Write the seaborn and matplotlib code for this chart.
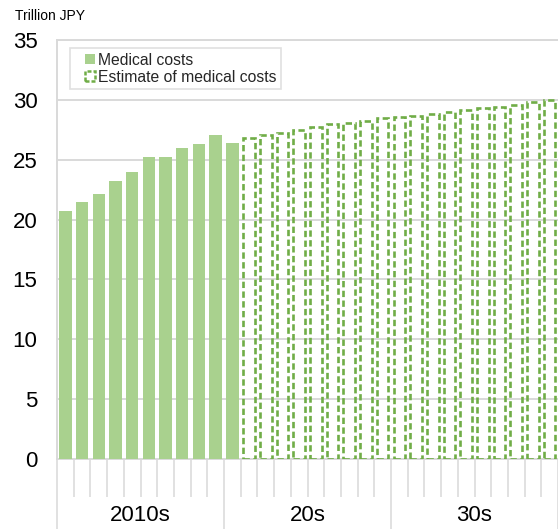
import matplotlib
matplotlib.use("Agg")
import matplotlib.pyplot as plt
from matplotlib.patches import Patch, Rectangle
from matplotlib.legend_handler import HandlerPatch
from matplotlib.transforms import blended_transform_factory
import seaborn as sns
import pandas as pd

# Fiscal years shown on the category axis
years = list(range(2010, 2040))
actual_years = list(range(2010, 2021))
estimate_years = list(range(2021, 2040))

# Medical costs, trillion JPY
actual_costs = [20.7, 21.5, 22.1, 23.2, 24.0, 25.2, 25.2, 26.0, 26.3, 27.1, 26.4]
estimate_costs = [26.8, 27.05, 27.25, 27.5, 27.7, 27.95, 28.05, 28.25, 28.45, 28.6,
                  28.65, 28.8, 28.95, 29.15, 29.3, 29.4, 29.6, 29.85, 30.0]

decade_labels = ["2010s", "20s", "30s"]
y_ticks = [0, 5, 10, 15, 20, 25, 30, 35]

series_names = ["Medical costs", "Estimate of medical costs"]

solid_green = "#a9d18e"
dash_green = "#70ad47"
grid_grey = "#d9d9d9"

sns.set_theme(style="white")
plt.rcParams["font.family"] = ["Liberation Sans", "DejaVu Sans"]

actual_df = pd.DataFrame({"year": [str(y) for y in actual_years], "cost": actual_costs})
estimate_df = pd.DataFrame({"year": [str(y) for y in estimate_years], "cost": estimate_costs})
order = [str(y) for y in years]

fig = plt.figure(figsize=(5.58, 5.29), dpi=100)
ax = fig.add_axes([57 / 558, 70 / 529, 501 / 558, 419 / 529])

sns.barplot(data=actual_df, x="year", y="cost", order=order, color=solid_green,
            saturation=1, width=0.74, errorbar=None, ax=ax, zorder=3, linewidth=0)
sns.barplot(data=estimate_df, x="year", y="cost", order=order, color=dash_green,
            saturation=1, width=0.70, errorbar=None, fill=False, ax=ax, zorder=3,
            linewidth=1.9, linestyle=(0, (2.4, 1.3)))

ax.set_xlim(-0.5, len(years) - 0.5)
ax.set_ylim(0, 35)
ax.set_yticks(y_ticks)
ax.set_yticklabels([str(t) for t in y_ticks], fontsize=16, color="#000000")
ax.yaxis.grid(True, color=grid_grey, linewidth=1.4, zorder=0)
ax.set_axisbelow(True)
ax.tick_params(axis="y", length=0, pad=14)
ax.set_xlabel("")
ax.set_ylabel("")

# Category axis: short ticks between years, long ticks between decades
boundaries = [i - 0.5 for i in range(len(years) + 1)]
decade_edges = [b for i, b in enumerate(boundaries) if i % 10 == 0]
ax.set_xticks(decade_edges)
ax.set_xticks(boundaries, minor=True)
ax.set_xticklabels([])
ax.tick_params(axis="x", which="major", direction="out", length=51, width=1.1,
               color=grid_grey, bottom=True)
ax.tick_params(axis="x", which="minor", direction="out", length=27, width=1.1,
               color=grid_grey, bottom=True)

trans = blended_transform_factory(ax.transData, ax.transAxes)
for k, label in enumerate(decade_labels):
    ax.text(10 * k + 4.5, -0.134, label, transform=trans, ha="center", va="center",
            fontsize=16, color="#000000")

for side in ["left", "top", "bottom"]:
    ax.spines[side].set_visible(True)
    ax.spines[side].set_color(grid_grey)
    ax.spines[side].set_linewidth(1.4)
ax.spines["right"].set_visible(False)


def small_square(legend, orig_handle, xdescent, ydescent, width, height, fontsize):
    # square legend key sitting at the right end of the handle box
    side = 0.62 * fontsize
    return Rectangle((width - side - xdescent, (height - side) / 2 - ydescent), side, side)


handles = [
    Patch(facecolor=solid_green, edgecolor="none"),
    Patch(facecolor="none", edgecolor=dash_green, linewidth=1.8, linestyle=(0, (1.6, 0.8))),
]
leg = ax.legend(handles, series_names, loc="upper left", bbox_to_anchor=(0.026, 0.981),
                borderaxespad=0, frameon=True, fancybox=False, fontsize=11.3,
                handlelength=1.3, handleheight=0.6, handletextpad=0.2,
                labelspacing=0.12, borderpad=0.3,
                handler_map={Patch: HandlerPatch(patch_func=small_square)})
leg.get_frame().set_edgecolor(grid_grey)
leg.get_frame().set_linewidth(1.2)
leg.get_frame().set_facecolor("white")
leg.set_zorder(5)

fig.text(15 / 558, 1 - 16 / 529, "Trillion JPY", ha="left", va="center",
         fontsize=10, color="#000000")

fig.savefig("out.png", dpi=100)
